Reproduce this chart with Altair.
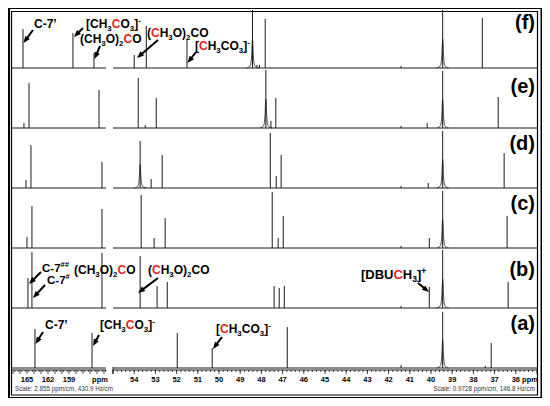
import math
import altair as alt
import numpy as np
import pandas as pd

OFF = 8  # page margin (page coordinates -> chart coordinates)
FONT = "Liberation Sans"
RED = "#e8231c"
INK = "#1b1b1b"

PANELS = ["(f)", "(e)", "(d)", "(c)", "(b)", "(a)"]

# ---- peak lists (ppm, intensity) per spectrum, left region (carbonyl) and right region ----
f_left_ppm = [165.57, 158.43, 155.43]
f_left_int = [39, 35, 15]
f_right_ppm = [54.00, 53.43, 51.51, 48.42, 48.21, 48.09, 47.82, 41.41, 39.45, 37.58]
f_right_int = [13, 42, 28, 58, 3, 3, 49, 2, 58, 50]

e_left_ppm = [165.43, 164.71, 154.71]
e_left_int = [5, 45, 38]
e_right_ppm = [53.81, 53.48, 52.96, 47.79, 47.55, 47.32, 41.41, 40.18, 39.45, 36.83]
e_right_int = [50, 3, 30, 58, 7, 30, 2, 5, 57, 31]

d_left_ppm = [165.14, 164.43, 154.29]
d_left_int = [8, 43, 26]
d_right_ppm = [53.72, 53.20, 52.68, 47.58, 47.30, 47.07, 41.41, 40.13, 39.45, 36.55]
d_right_int = [47, 9, 33, 55, 12, 33, 2, 5, 57, 35]

c_left_ppm = [165.00, 164.29, 154.29]
c_left_int = [11, 42, 39]
c_right_ppm = [53.67, 53.06, 52.54, 47.49, 47.21, 46.97, 41.41, 40.08, 39.45, 36.41]
c_right_int = [53, 10, 30, 56, 10, 32, 2, 10, 57, 32]

b_left_ppm = [164.86, 164.29, 154.29]
b_left_int = [30, 56, 55]
b_right_ppm = [53.72, 52.92, 52.44, 47.40, 47.16, 46.92, 41.41, 40.08, 39.45, 36.36]
b_right_int = [52, 22, 26, 22, 20, 22, 2, 21, 58, 26]

a_left_ppm = [163.86, 155.71]
a_left_int = [39, 35]
a_right_ppm = [51.97, 50.32, 46.78, 41.41, 39.45, 37.44, 37.16]
a_right_int = [35, 20, 41, 3, 56, 2, 25]

# broad (Lorentzian-looking) peaks: panel, ppm, intensity
broad_panel = ["(f)", "(f)", "(e)", "(e)", "(d)", "(d)", "(c)", "(b)", "(a)"]
broad_ppm = [48.42, 39.45, 47.79, 39.45, 53.72, 39.45, 39.45, 39.45, 39.45]
broad_int = [58, 58, 58, 57, 47, 57, 57, 58, 56]
# foot of the line shape: ppm offset and fraction of peak height
profile_dppm = [-0.28, -0.18, -0.11, -0.07, -0.04, 0.0, 0.04, 0.07, 0.11, 0.18, 0.28]
profile_frac = [0.0, 0.015, 0.04, 0.09, 0.22, 0.5, 0.22, 0.09, 0.04, 0.015, 0.0]

left_tick_labels = [165, 162, 159]
right_tick_labels = [54, 53, 52, 51, 50, 49, 48, 47, 46, 45, 44, 43, 42, 41, 40, 39, 38, 37, 36]
left_scale_text = "Scale: 2.855 ppm/cm, 430.9 Hz/cm"
right_scale_text = "Scale: 0.9728 ppm/cm, 146.8 Hz/cm"

# ---- build tables ----
LP = [f_left_ppm, e_left_ppm, d_left_ppm, c_left_ppm, b_left_ppm, a_left_ppm]
LI = [f_left_int, e_left_int, d_left_int, c_left_int, b_left_int, a_left_int]
RP = [f_right_ppm, e_right_ppm, d_right_ppm, c_right_ppm, b_right_ppm, a_right_ppm]
RI = [f_right_int, e_right_int, d_right_int, c_right_int, b_right_int, a_right_int]
rows = []
for idx, p in enumerate(PANELS):
    for v, h in zip(LP[idx], LI[idx]):
        rows.append(dict(panel=p, idx=idx, side="L", ppm=v, inten=h))
    for v, h in zip(RP[idx], RI[idx]):
        rows.append(dict(panel=p, idx=idx, side="R", ppm=v, inten=h))
peaks = pd.DataFrame(rows)
panels_df = pd.DataFrame({"panel": PANELS, "idx": list(range(6))})

prow = []
for k, (p, v, h) in enumerate(zip(broad_panel, broad_ppm, broad_int)):
    for j, (d, fr) in enumerate(zip(profile_dppm, profile_frac)):
        prow.append(dict(pk=k, j=j, idx=PANELS.index(p), ppm=v + d, inten=h * fr))
profiles = pd.DataFrame(prow)

W, H = 534, 390
LEFT = alt.Scale(domain=[167.14, 153.71], range=[4, 98], nice=False, zero=False)
RIGHT = alt.Scale(domain=[55.0, 35.0], range=[105, 529], nice=False, zero=False)
YS = alt.Scale(domain=[8, 398], range=[390, 0], nice=False, zero=False)
BASE = "338 - 60*datum.idx"

pk = alt.Chart(peaks).transform_calculate(base=BASE, top=BASE + " + datum.inten")
left_peaks = pk.transform_filter("datum.side == 'L'").mark_rule(color=INK, strokeWidth=1).encode(
    x=alt.X("ppm:Q", scale=LEFT, axis=None),
    y=alt.Y("base:Q", scale=YS, axis=None), y2="top:Q")
right_peaks = pk.transform_filter("datum.side == 'R'").mark_rule(color=INK, strokeWidth=1).encode(
    x=alt.X("ppm:Q", scale=RIGHT, axis=None),
    y=alt.Y("base:Q", scale=YS, axis=None), y2="top:Q")
broad = alt.Chart(profiles).transform_calculate(yv=BASE + " + datum.inten").mark_line(
    color=INK, strokeWidth=0.8, interpolate="monotone").encode(
    x=alt.X("ppm:Q", scale=RIGHT, axis=None), y=alt.Y("yv:Q", scale=YS, axis=None),
    detail="pk:N", order="j:Q")

bl = alt.Chart(panels_df).transform_calculate(base=BASE)
left_base = bl.mark_rule(color=INK, strokeWidth=1).encode(
    x=alt.value(4), x2=alt.value(98), y=alt.Y("base:Q", scale=YS, axis=None))
right_base = bl.mark_rule(color=INK, strokeWidth=1).encode(
    x=alt.value(105), x2=alt.value(529), y=alt.Y("base:Q", scale=YS, axis=None))

# ---- axes ----
AX_Y = 370 - OFF
lt_major = pd.DataFrame({"t": list(range(154, 168))})
lt_minor = pd.DataFrame({"t": list(np.arange(153.75, 167.1, 0.5))})
rt_major = pd.DataFrame({"t": list(range(35, 56))})
rt_minor = pd.DataFrame({"t": list(np.round(np.arange(35.0, 55.01, 0.2), 2))})

def ticks(df, sc, size):
    return alt.Chart(df).mark_rule(color=INK, strokeWidth=0.8).encode(
        x=alt.X("t:Q", scale=sc, axis=None), y=alt.value(AX_Y), y2=alt.value(AX_Y + size))

one = pd.DataFrame({"a": [0]})
axis_lines = [
    alt.Chart(one).mark_rule(color=INK, strokeWidth=1).encode(x=alt.value(4), x2=alt.value(98), y=alt.value(AX_Y)),
    alt.Chart(one).mark_rule(color=INK, strokeWidth=1).encode(x=alt.value(105), x2=alt.value(529), y=alt.value(AX_Y)),
    alt.Chart(one).mark_rule(color=INK, strokeWidth=1).encode(x=alt.value(105), y=alt.value(AX_Y - 3), y2=alt.value(AX_Y + 4)),
]
tick_layers = [ticks(lt_minor, LEFT, 2), ticks(lt_major, LEFT, 4), ticks(rt_minor, RIGHT, 2), ticks(rt_major, RIGHT, 4)]

lab_style = dict(font=FONT, fontSize=7.5, fontWeight="bold", color="black", baseline="middle", align="center")
left_labels = alt.Chart(pd.DataFrame({"t": left_tick_labels})).mark_text(**lab_style).encode(
    x=alt.X("t:Q", scale=LEFT, axis=None), y=alt.value(380 - OFF), text="t:N")
right_labels = alt.Chart(pd.DataFrame({"t": right_tick_labels})).mark_text(**lab_style).encode(
    x=alt.X("t:Q", scale=RIGHT, axis=None), y=alt.value(380 - OFF), text="t:N")
ppm_labels = alt.Chart(pd.DataFrame({"x": [100 - OFF, 530 - OFF], "t": ["ppm", "ppm"]})).mark_text(**lab_style).encode(
    x=alt.X("x:Q", scale=None, axis=None), y=alt.value(380 - OFF), text="t:N")

scale_l = alt.Chart(pd.DataFrame({"t": [left_scale_text]})).mark_text(
    font=FONT, fontSize=6.3, color="#333", align="left", baseline="alphabetic").encode(
    x=alt.value(15 - OFF), y=alt.value(391 - OFF), text="t:N")
scale_r = alt.Chart(pd.DataFrame({"t": [right_scale_text]})).mark_text(
    font=FONT, fontSize=6.3, color="#333", align="right", baseline="alphabetic").encode(
    x=alt.value(535 - OFF), y=alt.value(391 - OFF), text="t:N")

# ---- annotations ----
WID = {'[': 333, ']': 333, '(': 333, ')': 333, 'C': 722, 'H': 722, 'O': 778, 'D': 722, 'B': 722,
       'U': 722, '-': 333, '7': 556, '\u2019': 278, '#': 556, '2': 556, '3': 556, '+': 584}
K, R = "black", RED

def layout(x0, y0, segs, size=12.0):
    out = []
    x = x0
    for txt, col, kind in segs:
        fs = size if kind == "n" else size * 0.66
        dy = 0 if kind == "n" else (3 if kind == "sub" else -5)
        out.append(dict(x=x - OFF, y=y0 + dy - OFF, t=txt, c=col, s=fs))
        x += sum(WID.get(ch, 556) for ch in txt) / 1000.0 * fs
    return out

C7P = [("C-7\u2019", K, "n")]
ACET_CO = [("[CH", K, "n"), ("3", K, "sub"), ("C", R, "n"), ("O", K, "n"), ("3", K, "sub"), ("]", K, "n"), ("-", K, "sup")]
ACET_CH = [("[", K, "n"), ("C", R, "n"), ("H", K, "n"), ("3", K, "sub"), ("CO", K, "n"), ("3", K, "sub"), ("]", K, "n"), ("-", K, "sup")]
DMC_CO = [("(CH", K, "n"), ("3", K, "sub"), ("O)", K, "n"), ("2", K, "sub"), ("C", R, "n"), ("O", K, "n")]
DMC_CH = [("(", K, "n"), ("C", R, "n"), ("H", K, "n"), ("3", K, "sub"), ("O)", K, "n"), ("2", K, "sub"), ("CO", K, "n")]
DBU = [("[DBU", K, "n"), ("C", R, "n"), ("H", K, "n"), ("3", K, "sub"), ("]", K, "n"), ("+", K, "sup")]

ann = []
ann += layout(34, 28, C7P)
ann += layout(86, 28, ACET_CO)
ann += layout(80, 43, DMC_CO)
ann += layout(147, 37, DMC_CH)
ann += layout(195, 50, ACET_CH)
ann += layout(42, 272, [("C-7", K, "n"), ("##", K, "sup")], size=11.5)
ann += layout(47, 284, [("C-7", K, "n"), ("#", K, "sup")], size=11.5)
ann += layout(74, 274, DMC_CO)
ann += layout(148, 274, DMC_CH)
ann += layout(361, 279, DBU, size=13)
ann += layout(45, 329, C7P)
ann += layout(100, 329, ACET_CO)
ann += layout(216, 333, ACET_CH)
ann_df = pd.DataFrame(ann)

ann_text = alt.Chart(ann_df).mark_text(font=FONT, fontWeight="bold", align="left", baseline="alphabetic").encode(
    x=alt.X("x:Q", scale=None, axis=None), y=alt.Y("y:Q", scale=None, axis=None), text="t:N",
    color=alt.Color("c:N", scale=None), size=alt.Size("s:Q", scale=None))

panel_lab = pd.DataFrame({"t": PANELS, "x": [535 - OFF] * 6,
                          "y": [v - OFF for v in [29, 93, 150, 210, 276, 330]]})
panel_text = alt.Chart(panel_lab).mark_text(font=FONT, fontWeight="bold", fontSize=20, align="right",
                                             baseline="alphabetic", color="black").encode(
    x=alt.X("x:Q", scale=None, axis=None), y=alt.Y("y:Q", scale=None, axis=None), text="t:N")

ARROWS = [(33, 30, 23.5, 43), (83, 28, 74, 37), (100, 46, 94.5, 59), (158, 40, 137, 58), (196, 52, 187.5, 63),
          (41, 272, 29, 284), (45, 285, 33, 298), (158, 278, 138, 293), (418, 283, 429, 292),
          (43, 332, 35.5, 344), (99, 335, 93, 346), (222, 337, 213, 349)]
HEAD_R = 3.5
lines, heads = [], []
for x1, y1, x2, y2 in ARROWS:
    dx, dy = x2 - x1, y2 - y1
    L = math.hypot(dx, dy)
    ux, uy = dx / L, dy / L
    cx, cy = x2 - HEAD_R * ux, y2 - HEAD_R * uy
    lines.append(dict(x=x1 - OFF, y=y1 - OFF, x2=cx - OFF, y2=cy - OFF))
    ang = math.degrees(math.atan2(dx, -dy)) % 360
    heads.append(dict(x=cx - OFF, y=cy - OFF, a=ang))
arrow_lines = alt.Chart(pd.DataFrame(lines)).mark_rule(color="black", strokeWidth=2).encode(
    x=alt.X("x:Q", scale=None, axis=None), y=alt.Y("y:Q", scale=None, axis=None), x2="x2:Q", y2="y2:Q")
arrow_heads = alt.Chart(pd.DataFrame(heads)).mark_point(
    shape="M0,-1L0.8,1L-0.8,1Z", filled=True, color="black", opacity=1, size=(2 * HEAD_R) ** 2).encode(
    x=alt.X("x:Q", scale=None, axis=None), y=alt.Y("y:Q", scale=None, axis=None),
    angle=alt.Angle("a:Q", scale=None))

# ---- frames ----
outer = alt.Chart(one).mark_rect(fill="white", fillOpacity=0, stroke="black", strokeWidth=5).encode(
    x=alt.value(7.5 - OFF), x2=alt.value(543 - OFF), y=alt.value(6.5 - OFF), y2=alt.value(399.5 - OFF))
inner = alt.Chart(one).mark_rect(fill="white", fillOpacity=0, stroke="black", strokeWidth=1.2).encode(
    x=alt.value(11.5 - OFF), x2=alt.value(537.5 - OFF), y=alt.value(11.5 - OFF), y2=alt.value(395 - OFF))

chart = alt.layer(
    outer, inner, left_base, right_base, broad, left_peaks, right_peaks,
    *axis_lines, *tick_layers, left_labels, right_labels, ppm_labels, scale_l, scale_r,
    arrow_lines, arrow_heads, ann_text, panel_text,
).resolve_scale(
    x="independent", y="independent", color="independent", size="independent", angle="independent"
).properties(
    width=W, height=H, autosize=alt.AutoSizeParams(type="none"), padding=0, background="white"
).configure_view(stroke=None)

chart.save("out.html", embed_options={"renderer": "svg", "actions": False})
